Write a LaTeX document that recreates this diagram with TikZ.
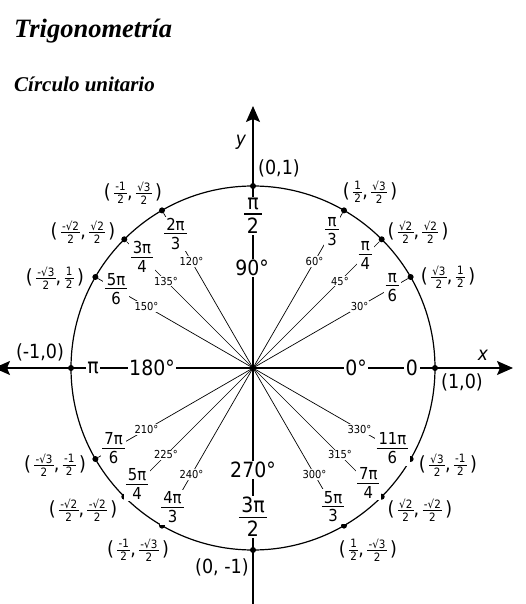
\documentclass[tikz,border=0pt]{standalone}
\usepackage{fontspec}
\setmainfont{DejaVu Sans}[FakeStretch=0.9]
\newfontfamily\titlefont{Liberation Serif}
\usetikzlibrary{arrows.meta}
\newcommand\fr[2]{\vbox{\offinterlineskip\halign{\hfil\kern.12em##\kern.12em\hfil\cr#1\cr\noalign{\kern.16em\hrule height .065em\kern.16em}#2\cr}}}
\newcommand\cfr[2]{$\vcenter{\hbox{\fontsize{11.5}{12}\selectfont\fr{#1}{#2}}}$}
\begin{document}
\begin{tikzpicture}[x=1pt,y=1pt,
  big/.style={font=\fontsize{21}{24}\selectfont, fill=white, inner sep=1.5pt},
  mid/.style={font=\fontsize{16.5}{18}\selectfont, fill=white, inner sep=1.5pt},
  deg/.style={font=\fontsize{11}{12}\selectfont, fill=white, inner sep=1pt},
  coord/.style={font=\fontsize{19.5}{22}\selectfont, inner sep=0pt},
  dot/.style={circle, fill=black, inner sep=0pt, minimum size=6pt},
  ray/.style={line width=0.7pt},
  axis/.style={line width=1.3pt},
  tip/.style={-{Stealth[length=16pt,width=14pt,inset=3pt]}},
  ]
\useasboundingbox[fill=white] (-253,-236) rectangle (272,368);
% titles
\node[anchor=base west, inner sep=0pt, font=\titlefont\bfseries\itshape\fontsize{26.5}{30}\selectfont] (title) at (-239,330) {Trigonometría};
\node[anchor=base west, inner sep=0pt, font=\titlefont\bfseries\itshape\fontsize{21}{24}\selectfont] (sub) at (-239,276) {Círculo unitario};
% axes
\coordinate (O) at (0,0);
\coordinate (xl) at (-259,0);
\coordinate (xr) at (260,0);
\coordinate (yb) at (0,-245);
\coordinate (yt) at (0,262);
\draw[axis,{Stealth[length=16pt,width=14pt,inset=3pt]}-{Stealth[length=16pt,width=14pt,inset=3pt]}] (xl) -- (xr);
\draw[axis,tip] (yb) -- (yt);
% unit circle
\node[draw, circle, minimum size=364pt, inner sep=0pt, line width=1.2pt] (unit) at (O) {};
% dots
\foreach \a in {0,30,45,60,90,120,135,150,180,210,225,240,270,300,315,330}
  \node[dot] (d\a) at (\a:182) {};
% rays
\foreach \a in {30,45,60,120,135,150,210,225,240,300,315,330}
  \draw[ray] (O) -- (d\a);
% degree labels
\foreach \a in {30,45,60,120,135,150,210,225,240,300,315,330}
  \node[deg] (g\a) at (\a:123) {\a°};
% fraction labels
\node[mid] (f30) at (30:161) {\fr{π}{6}};
\node[mid] (f45) at (45:159) {\fr{π}{4}};
\node[mid] (f60) at (60:158) {\fr{π}{3}};
\node[mid] (f120) at (120:155) {\fr{2π}{3}};
\node[mid] (f135) at (135:157) {\fr{3π}{4}};
\node[mid] (f150) at (150:158) {\fr{5π}{6}};
\node[mid] (f210) at (210:161) {\fr{7π}{6}};
\node[mid] (f225) at (225:164) {\fr{5π}{4}};
\node[mid] (f240) at (240:161) {\fr{4π}{3}};
\node[mid] (f300) at (300:160) {\fr{5π}{3}};
\node[mid] (f315) at (315:163) {\fr{7π}{4}};
\node[mid] (f330) at (330:161) {\fr{11π}{6}};
% axis labels
\node[big] (l90) at (-1,100) {90°};
\node[big] (f90) at (0,152) {\fr{π}{2}};
\node[big] (l270) at (0,-102) {270°};
\node[big] (f270) at (0,-149) {\fr{3π}{2}};
\node[big] (l180) at (-101,0) {180°};
\node[big] (f180) at (-160,0) {π};
\node[big] (l0) at (103,0) {0°};
\node[big] (f0) at (159,0) {0};
% coordinates
\node[coord] (c0) at (209,-14) {(1,0)};
\node[coord] (c90) at (26,200) {(0,1)};
\node[coord] (c180) at (-213,16) {(-1,0)};
\node[coord] (c270) at (-31,-199) {(0, -1)};
\node[coord] (c30) at (195,91) {(\thinspace\cfr{√3}{2},\thinspace\cfr{1}{2}\thinspace)};
\node[coord] (c45) at (165,136) {(\thinspace\cfr{√2}{2},\thinspace\cfr{√2}{2}\thinspace)};
\node[coord] (c60) at (117,176) {(\thinspace\cfr{1}{2},\thinspace\cfr{√3}{2}\thinspace)};
\node[coord] (c120) at (-120,175) {(\thinspace\cfr{-1}{2},\thinspace\cfr{√3}{2}\thinspace)};
\node[coord] (c135) at (-170,136) {(\thinspace\cfr{-√2}{2},\thinspace\cfr{√2}{2}\thinspace)};
\node[coord] (c150) at (-198,90) {(\thinspace\cfr{-√3}{2},\thinspace\cfr{1}{2}\thinspace)};
\node[coord] (c210) at (-198,-97) {(\thinspace\cfr{-√3}{2},\thinspace\cfr{-1}{2}\thinspace)};
\node[coord] (c225) at (-170,-142) {(\thinspace\cfr{-√2}{2},\thinspace\cfr{-√2}{2}\thinspace)};
\node[coord] (c240) at (-115,-182) {(\thinspace\cfr{-1}{2},\thinspace\cfr{-√3}{2}\thinspace)};
\node[coord] (c300) at (115,-182) {(\thinspace\cfr{1}{2},\thinspace\cfr{-√3}{2}\thinspace)};
\node[coord] (c315) at (167,-142) {(\thinspace\cfr{√2}{2},\thinspace\cfr{-√2}{2}\thinspace)};
\node[coord] (c330) at (195,-97) {(\thinspace\cfr{√3}{2},\thinspace\cfr{-1}{2}\thinspace)};
% axis names
\node[font=\fontsize{19}{22}\selectfont\itshape, inner sep=0pt] (xn) at (230,13) {x};
\node[font=\fontsize{19}{22}\selectfont\itshape, inner sep=0pt] (yn) at (-12,226) {y};
\end{tikzpicture}
\end{document}
